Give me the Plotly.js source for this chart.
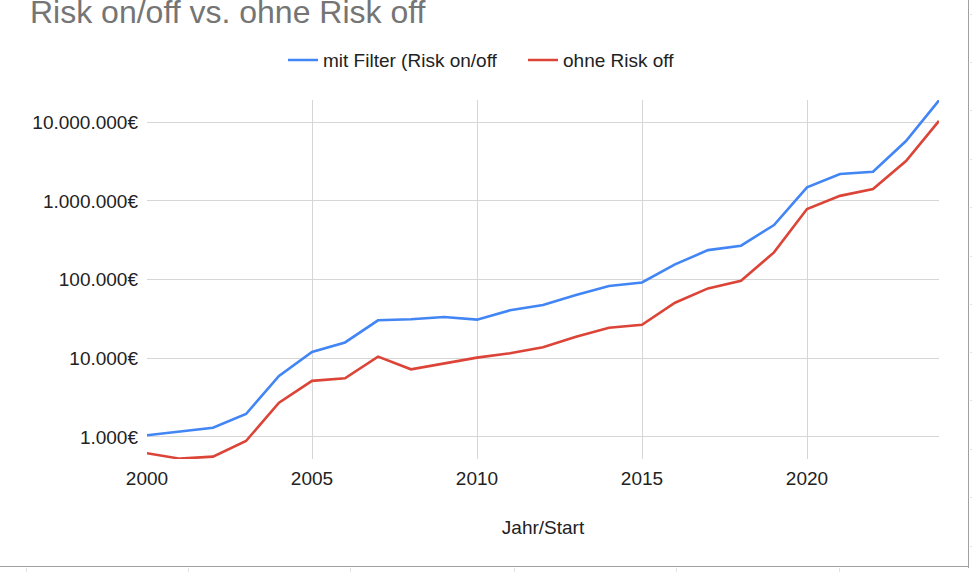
<!DOCTYPE html>
<html>
<head>
<meta charset="utf-8">
<script src="https://cdn.plot.ly/plotly-3.0.1.min.js"></script>
<style>
  html, body { margin: 0; padding: 0; background: #fff; }
  #wrap { position: relative; width: 972px; height: 572px; overflow: hidden; }
  #chart { position: absolute; left: 0; top: 0; width: 972px; height: 572px; }
  .frame { position: absolute; background: #a0a0a0; }
  .cell { position: absolute; background: #e2e2e2; }
</style>
</head>
<body>
<div id="wrap">
  <div id="chart"></div>
</div>
<script>
// ---- data ----
const years = [2000, 2001, 2002, 2003, 2004, 2005, 2006, 2007, 2008, 2009, 2010, 2011, 2012,
               2013, 2014, 2015, 2016, 2017, 2018, 2019, 2020, 2021, 2022, 2023, 2024];
const mitFilter = [1050, 1170, 1310, 1960, 5960, 12000, 15900, 30400, 31300, 33500, 31000, 40700, 47600,
                   63700, 82900, 92000, 156000, 237000, 270000, 494000, 1490000, 2200000, 2350000, 5770000, 19000000];
const ohneRiskOff = [621, 530, 562, 889, 2730, 5170, 5570, 10500, 7240, 8630, 10200, 11570, 13800,
                     18800, 24500, 26700, 50900, 77400, 96800, 222000, 789000, 1160000, 1420000, 3210000, 10400000];
const seriesNames = ["mit Filter (Risk on/off", "ohne Risk off"];
const yTickVals = [1000, 10000, 100000, 1000000, 10000000];
const yTickText = ["1.000€", "10.000€", "100.000€", "1.000.000€", "10.000.000€"];
const chartTitle = "Risk on/off vs. ohne Risk off";
const xTitle = "Jahr/Start";

const FONT = "Liberation Sans, Arial, sans-serif";
const FS = 19;

const traces = [
  { x: years, y: mitFilter, name: seriesNames[0], type: "scatter", mode: "lines",
    line: { color: "#4285F4", width: 2.6 } },
  { x: years, y: ohneRiskOff, name: seriesNames[1], type: "scatter", mode: "lines",
    line: { color: "#DB4437", width: 2.6 } }
];

const layout = {
  width: 972, height: 572,
  margin: { l: 147, r: 33, t: 100, b: 113, pad: 0 },
  paper_bgcolor: "#fff", plot_bgcolor: "#fff",
  font: { family: FONT, size: FS, color: "#222" },
  showlegend: true,
  title: {
    text: chartTitle, xref: "container", yref: "container",
    x: 30 / 972, xanchor: "left", y: 1 - 23 / 572, yanchor: "bottom",
    pad: { t: 0, b: 0, l: 0, r: 0 },
    font: { family: FONT, size: 32, color: "#757575" }
  },
  legend: {
    orientation: "h", x: (283 - 147) / 792, xanchor: "left", y: 1.111, yanchor: "middle",
    font: { family: FONT, size: FS, color: "#222" }, itemwidth: 30, traceorder: "normal",
    entrywidth: 195, entrywidthmode: "pixels"
  },
  xaxis: {
    range: [2000, 2024], tick0: 2000, dtick: 5, showgrid: true, gridcolor: "#d6d6d6", gridwidth: 1,
    zeroline: false, showline: false, ticks: "", ticklabelstandoff: 6,
    tickfont: { family: FONT, size: FS, color: "#222" },
    title: { text: xTitle, standoff: 32, font: { family: FONT, size: FS, color: "#222" } },
    fixedrange: true
  },
  yaxis: {
    type: "log", range: [2.72, 7.283], tickvals: yTickVals, ticktext: yTickText,
    showgrid: true, gridcolor: "#d6d6d6", gridwidth: 1, zeroline: false, showline: false,
    ticks: "", ticklabelstandoff: 8,
    tickfont: { family: FONT, size: FS, color: "#222" }, fixedrange: true
  }
};

Plotly.newPlot("chart", traces, layout, { displayModeBar: false, staticPlot: true });

// spreadsheet frame decoration around the embedded chart
const wrap = document.getElementById("wrap");
function addDiv(cls, l, t, w, h) {
  const d = document.createElement("div");
  d.className = cls;
  d.style.left = l + "px"; d.style.top = t + "px";
  d.style.width = w + "px"; d.style.height = h + "px";
  wrap.appendChild(d);
}
const bottomMarks = [26, 188, 350, 514, 676, 839];
bottomMarks.forEach(x => addDiv("cell", x, 568, 1, 4));
const rightMarks = [14, 62, 110, 159, 207, 256, 304, 352, 400, 449, 497, 546];
rightMarks.forEach(y => addDiv("cell", 970, y, 2, 1));
addDiv("frame", 968, 0, 1, 568);
addDiv("frame", 0, 566, 969, 1);
</script>
</body>
</html>
